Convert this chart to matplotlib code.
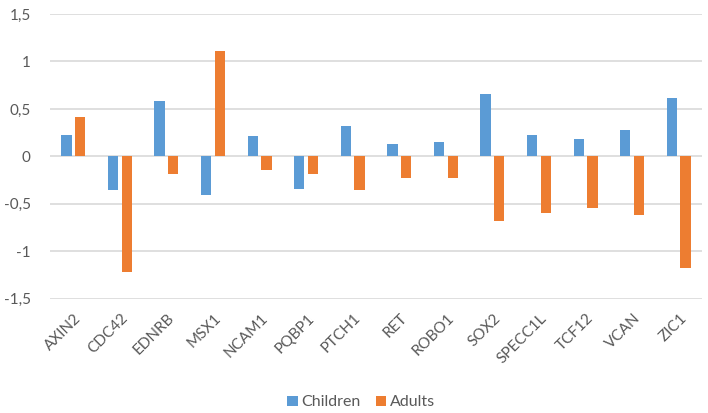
import matplotlib
matplotlib.use("Agg")
import matplotlib.pyplot as plt
import numpy as np
from matplotlib.transforms import ScaledTranslation

genes = ["AXIN2", "CDC42", "EDNRB", "MSX1", "NCAM1", "PQBP1", "PTCH1", "RET",
         "ROBO1", "SOX2", "SPECC1L", "TCF12", "VCAN", "ZIC1"]
children = [0.23, -0.36, 0.58, -0.41, 0.21, -0.34, 0.32, 0.13,
            0.15, 0.66, 0.23, 0.18, 0.28, 0.62]
adults = [0.41, -1.22, -0.19, 1.11, -0.14, -0.19, -0.36, -0.23,
          -0.23, -0.68, -0.60, -0.54, -0.62, -1.18]
yticks = [-1.5, -1, -0.5, 0, 0.5, 1, 1.5]
ytick_labels = ["-1,5", "-1", "-0,5", "0", "0,5", "1", "1,5"]

plt.rcParams['font.family'] = ['Lato', 'DejaVu Sans']
fig = plt.figure(figsize=(7.08, 4.13), dpi=100)
ax = fig.add_axes([0.0706, 0.277, 0.921, 0.689])

x = np.arange(len(genes))
w = 0.22
off = 0.147
ax.bar(x - off, children, width=w, color="#5B9BD5", label="Children", zorder=3)
ax.bar(x + off, adults, width=w, color="#ED7D31", label="Adults", zorder=3)

ax.set_xlim(-0.5, len(genes) - 0.5)
ax.set_ylim(-1.5, 1.5)
ax.set_yticks(yticks)
ax.set_yticklabels(ytick_labels)
ax.set_xticks(x)
ax.set_xticklabels(genes, rotation=45, ha="right", rotation_mode="anchor")
ax.yaxis.grid(True, color="#D9D9D9", linewidth=1.2, zorder=0)
ax.set_axisbelow(True)
for s in ax.spines.values():
    s.set_visible(False)
ax.tick_params(axis="y", length=0, colors="#595959", labelsize=11, pad=14)
ax.tick_params(axis="x", length=0, colors="#595959", labelsize=11, pad=9)
shift = ScaledTranslation(1 / 100, 0, fig.dpi_scale_trans)
for lbl in ax.get_xticklabels():
    lbl.set_transform(lbl.get_transform() + shift)

ax.legend(loc="upper center", bbox_to_anchor=(0.477, -0.29), ncol=2, frameon=False,
          fontsize=11.5, handlelength=0.65, handleheight=0.65, columnspacing=1.0,
          handletextpad=0.2, labelcolor="#595959")

fig.savefig("out.png", dpi=100)
